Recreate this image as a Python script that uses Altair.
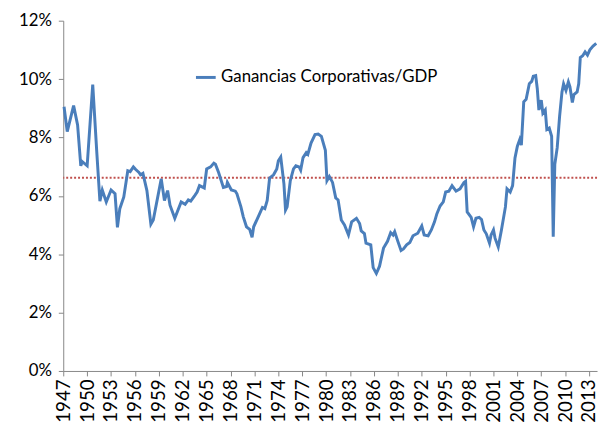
import altair as alt
import pandas as pd

years = [1947.1, 1947.5, 1948.3, 1948.8, 1949.2, 1949.4, 1950.0, 1950.7, 1951.2, 1951.6,
         1951.9, 1952.4, 1953.0, 1953.5, 1953.8, 1954.1, 1954.6, 1955.1, 1955.4, 1955.8,
         1956.1, 1956.5, 1956.7, 1957.0, 1957.5, 1958.0, 1958.3, 1959.3, 1959.7, 1960.1,
         1960.4, 1961.0, 1961.8, 1962.3, 1962.7, 1963.0, 1963.5, 1963.8, 1964.1, 1964.7,
         1965.0, 1965.5, 1965.9, 1966.1, 1966.5, 1967.1, 1967.5, 1967.6, 1968.1, 1968.6,
         1968.8, 1969.3, 1969.6, 1970.0, 1970.4, 1970.7, 1970.9, 1971.5, 1972.0, 1972.3,
         1972.6, 1972.9, 1973.4, 1973.8, 1974.0, 1974.3, 1974.7, 1974.9, 1975.1, 1975.5,
         1975.9, 1976.2, 1976.6, 1976.8, 1977.1, 1977.5, 1977.7, 1978.1, 1978.6, 1979.0,
         1979.4, 1979.9, 1980.1, 1980.4, 1980.8, 1981.2, 1981.5, 1981.9, 1982.3, 1982.8,
         1983.2, 1983.8, 1984.2, 1984.4, 1984.8, 1985.0, 1985.6, 1985.9, 1986.3, 1986.7,
         1987.2, 1987.7, 1988.1, 1988.4, 1988.6, 1989.0, 1989.4, 1989.7, 1990.1, 1990.5,
         1990.9, 1991.5, 1992.0, 1992.3, 1992.8, 1993.2, 1993.6, 1993.9, 1994.3, 1994.7,
         1995.0, 1995.4, 1995.8, 1996.3, 1996.8, 1997.3, 1997.5, 1997.7, 1998.2, 1998.5,
         1998.8, 1999.2, 1999.5, 1999.8, 2000.1, 2000.5, 2000.7, 2001.0, 2001.2, 2001.6,
         2002.0, 2002.5, 2002.7, 2003.1, 2003.4, 2003.7, 2004.0, 2004.3, 2004.5, 2004.8,
         2005.1, 2005.5, 2005.8, 2006.0, 2006.3, 2006.5, 2006.7, 2007.0, 2007.2, 2007.5,
         2007.7, 2008.0, 2008.3, 2008.5, 2008.7, 2009.0, 2009.3, 2009.6, 2009.8, 2010.1,
         2010.4, 2010.6, 2010.9, 2011.1, 2011.5, 2011.7, 2011.9, 2012.2, 2012.5, 2012.8,
         2013.1, 2013.5, 2013.9]

values = [9.05, 8.2, 9.09, 8.43, 7.03, 7.17, 7.03, 9.81, 7.53, 5.82,
          6.2, 5.79, 6.2, 6.07, 4.92, 5.56, 5.96, 6.86, 6.83, 6.99,
          6.9, 6.8, 6.72, 6.77, 6.18, 5.03, 5.17, 6.58, 5.84, 6.18,
          5.68, 5.23, 5.79, 5.71, 5.86, 5.82, 6.01, 6.13, 6.35, 6.27,
          6.92, 6.99, 7.12, 7.08, 6.8, 6.29, 6.32, 6.46, 6.2, 6.16,
          6.07, 5.62, 5.28, 4.94, 4.85, 4.58, 4.94, 5.3, 5.6, 5.56,
          5.84, 6.61, 6.72, 6.92, 7.2, 7.33, 6.41, 5.51, 5.62, 6.52,
          6.92, 7.03, 6.99, 6.88, 7.31, 7.48, 7.42, 7.81, 8.1, 8.12,
          8.04, 7.56, 6.52, 6.66, 6.46, 5.93, 5.86, 5.17, 5.0, 4.66,
          5.11, 5.23, 5.05, 4.8, 4.71, 4.38, 4.32, 3.54, 3.34, 3.59,
          4.21, 4.44, 4.74, 4.66, 4.77, 4.44, 4.13, 4.18, 4.32, 4.4,
          4.63, 4.72, 4.97, 4.66, 4.63, 4.83, 5.11, 5.39, 5.65, 5.79,
          6.13, 6.16, 6.35, 6.16, 6.24, 6.46, 6.5, 5.45, 5.26, 4.94,
          5.23, 5.26, 5.19, 4.83, 4.7, 4.38, 4.66, 4.83, 4.55, 4.25,
          4.83, 5.62, 6.24, 6.13, 6.35, 7.3, 7.7, 7.93, 7.74, 9.22,
          9.31, 9.84, 9.92, 10.1, 10.12, 9.67, 8.94, 9.28, 8.83, 8.94,
          8.27, 8.32, 8.04, 4.6, 7.08, 7.65, 8.72, 9.56, 9.84, 9.61,
          9.9, 9.73, 9.2, 9.47, 9.56, 9.84, 10.74, 10.8, 10.93, 10.82,
          11.0, 11.13, 11.22]

series_name = "Ganancias Corporativas/GDP"
average_value = [6.62]
year_ticks = list(range(1947, 2014, 3))
pct_ticks = [0, 2, 4, 6, 8, 10, 12]

df = pd.DataFrame({"year": years, "value": values, "serie": series_name})
avg_df = pd.DataFrame({"avg": average_value})

FONT = "Lato"

x_enc = alt.X(
    "year:Q",
    scale=alt.Scale(domain=[1947, 2014], nice=False, zero=False),
    axis=alt.Axis(values=year_ticks, format="d", labelAngle=270, title=None,
                  tickSize=5, labelPadding=3, labelFontSize=19, labelFlush=False),
)
y_enc = alt.Y(
    "value:Q",
    scale=alt.Scale(domain=[0, 12], nice=False),
    axis=alt.Axis(values=pct_ticks, labelExpr="datum.value + '%'", title=None,
                  tickSize=5, labelPadding=7, labelFontSize=17),
)

line = alt.Chart(df).mark_line(strokeWidth=3, interpolate="linear").encode(
    x=x_enc,
    y=y_enc,
    color=alt.Color(
        "serie:N",
        scale=alt.Scale(domain=[series_name], range=["#4A7EBB"]),
        legend=alt.Legend(
            title=None, orient="none", legendX=133, legendY=46,
            symbolType="stroke", symbolSize=400, symbolStrokeWidth=3,
            labelFontSize=17, labelFont=FONT, labelColor="#000000",
            labelOffset=4, padding=0, labelLimit=0,
        ),
    ),
)

avg_rule = alt.Chart(avg_df).mark_rule(
    color="#C0504D", strokeWidth=2, strokeDash=[2, 2]
).encode(y=alt.Y("avg:Q", scale=alt.Scale(domain=[0, 12], nice=False)))

chart = (
    alt.layer(avg_rule, line)
    .properties(
        width=541, height=355,
        autosize=alt.AutoSizeParams(type="none"),
        padding={"left": 56, "top": 10, "right": 3, "bottom": 60},
        background="#FFFFFF",
    )
    .configure_view(stroke=None)
    .configure_axis(
        grid=False, domainColor="#868686", tickColor="#868686",
        labelColor="#000000", labelFont=FONT, domainWidth=1, tickWidth=1,
    )
)

chart.save("out.html", embed_options={"renderer": "svg", "actions": False})
